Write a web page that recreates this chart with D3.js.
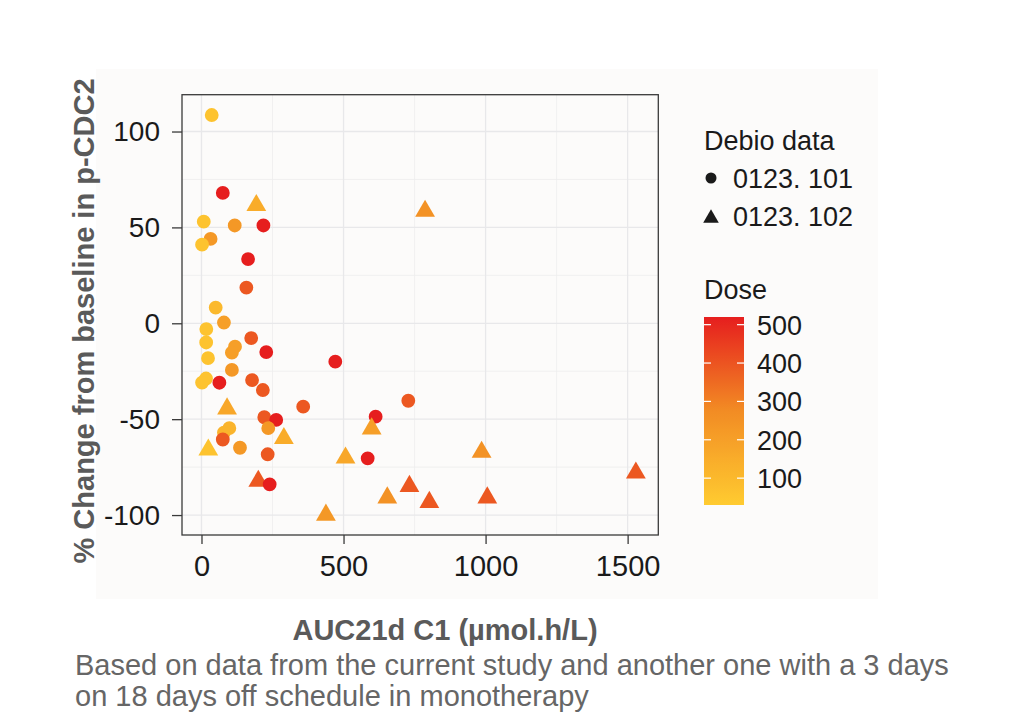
<!DOCTYPE html>
<html>
<head>
<meta charset="utf-8">
<script src="https://cdn.jsdelivr.net/npm/d3@7"></script>
<style>
  html, body { margin: 0; padding: 0; background: #ffffff; }
  svg { display: block; }
  text { font-family: "Liberation Sans", Arial, sans-serif; }
</style>
</head>
<body>
<svg id="chart" width="1011" height="714"></svg>
<script>
// ---- data ----
const auc = [36, 75, 193, 8, 117, 218, 32, 2, 164, 158,
             50, 79, 17, 175, 16.5, 228, 118, 107, 23, 471,
             107, 16, 2, 63, 178, 216, 90, 358, 728, 613,
             599, 221, 263, 235, 290, 98, 79, 75, 135.5, 24,
             233, 507, 585, 200, 240, 654, 732, 438, 986, 802,
             1006, 1529, 787];
const change = [108.6, 68, 63, 53, 51, 51, 44, 41, 33.5, 18.6,
                8.2, 0.4, -3, -7.7, -10, -15, -12.2, -15.3, -18.2, -20,
                -24.3, -28.8, -30.9, -31, -29.6, -34.8, -43.1, -43.5, -40.4, -48.7,
                -53.5, -49, -50.4, -54.7, -58.5, -54.7, -57, -60.6, -64.9, -64.5,
                -68.3, -68.7, -70.4, -80.8, -84, -89.5, -83.5, -98.5, -65.7, -91.8,
                -89.5, -76.5, 60];
const dose = [60, 520, 150, 60, 230, 520, 230, 60, 520, 390,
              100, 200, 60, 390, 60, 520, 200, 200, 60, 520,
              230, 60, 60, 520, 390, 390, 170, 390, 390, 520,
              200, 390, 520, 230, 150, 120, 120, 390, 230, 60,
              390, 170, 520, 390, 520, 250, 390, 230, 250, 390,
              390, 390, 250];
const study = ["101","101","102","101","101","101","101","101","101","101",
               "101","101","101","101","101","101","101","101","101","101",
               "101","101","101","101","101","101","102","101","101","101",
               "102","101","101","101","102","101","101","101","101","102",
               "101","102","101","102","101","102","102","102","102","102",
               "102","102","102"];
const studyLevels = ["101", "102"];
const studyLabels = ["0123. 101", "0123. 102"];
const xTicks = [0, 500, 1000, 1500];
const yTicks = [100, 50, 0, -50, -100];
const xMinor = [250, 750, 1250];
const yMinor = [75, 25, -25, -75];
const doseTicks = [100, 200, 300, 400, 500];
const doseRange = [30, 520];
const xDomain = [-68.6, 1608];
const yDomain = [-110.4, 119.2];

// ---- layout ----
const svg = d3.select("#chart");
const panel = {left: 182, right: 658.3, top: 94.7, bottom: 535};

svg.append("rect").attr("x", 96).attr("y", 69).attr("width", 782).attr("height", 530)
  .attr("fill", "#fcfbfa");

const x = d3.scaleLinear().domain(xDomain).range([panel.left, panel.right]);
const y = d3.scaleLinear().domain(yDomain).range([panel.bottom, panel.top]);
const color = d3.scaleLinear()
  .domain([doseRange[0], (doseRange[0] + doseRange[1]) / 2, doseRange[1]])
  .range(["#ffcb30", "#f28c24", "#e61e1e"]);

const g = svg.append("g");
// grid
g.selectAll(".xminor").data(xMinor).join("line")
  .attr("x1", d => x(d)).attr("x2", d => x(d)).attr("y1", panel.top).attr("y2", panel.bottom)
  .attr("stroke", "#eeeeee").attr("stroke-width", 0.8);
g.selectAll(".yminor").data(yMinor).join("line")
  .attr("y1", d => y(d)).attr("y2", d => y(d)).attr("x1", panel.left).attr("x2", panel.right)
  .attr("stroke", "#eeeeee").attr("stroke-width", 0.8);
g.selectAll(".xmajor").data(xTicks).join("line")
  .attr("x1", d => x(d)).attr("x2", d => x(d)).attr("y1", panel.top).attr("y2", panel.bottom)
  .attr("stroke", "#e8e8ea").attr("stroke-width", 1.3);
g.selectAll(".ymajor").data(yTicks).join("line")
  .attr("y1", d => y(d)).attr("y2", d => y(d)).attr("x1", panel.left).attr("x2", panel.right)
  .attr("stroke", "#e8e8ea").attr("stroke-width", 1.3);

// points
const circleSize = 150;
const triSize = 170;
const triK = Math.sqrt(triSize / (3 * Math.sqrt(3)));
const idx = d3.range(auc.length);
g.selectAll(".pt").data(idx).join("path")
  .attr("d", i => d3.symbol().type(study[i] === "101" ? d3.symbolCircle : d3.symbolTriangle)
      .size(study[i] === "101" ? circleSize : triSize)())
  .attr("transform", i => `translate(${x(auc[i])},${y(change[i]) + (study[i] === "101" ? 0 : triK / 2)})`)
  .attr("fill", i => color(dose[i]));

// panel border
svg.append("rect").attr("x", panel.left).attr("y", panel.top)
  .attr("width", panel.right - panel.left).attr("height", panel.bottom - panel.top)
  .attr("fill", "none").attr("stroke", "#3a3a3a").attr("stroke-width", 1.3);

// axes
const fmt = d => String(d);
const xAxis = svg.append("g").attr("transform", `translate(0,${panel.bottom})`)
  .call(d3.axisBottom(x).tickValues(xTicks).tickSize(9).tickPadding(11).tickFormat(fmt));
xAxis.select(".domain").remove();
xAxis.selectAll("line").attr("stroke", "#3a3a3a").attr("stroke-width", 1.3);
xAxis.selectAll("text").attr("font-size", 29).attr("fill", "#1a1a1a")
  .attr("font-family", "Liberation Sans, Arial, sans-serif");

const yAxis = svg.append("g").attr("transform", `translate(${panel.left},0)`)
  .call(d3.axisLeft(y).tickValues(yTicks).tickSize(10).tickPadding(12).tickFormat(fmt));
yAxis.select(".domain").remove();
yAxis.selectAll("line").attr("stroke", "#3a3a3a").attr("stroke-width", 1.3);
yAxis.selectAll("text").attr("font-size", 28).attr("fill", "#1a1a1a")
  .attr("font-family", "Liberation Sans, Arial, sans-serif");

// axis titles
svg.append("text").attr("transform", "translate(94,321) rotate(-90)")
  .attr("text-anchor", "middle").attr("font-size", 29).attr("font-weight", "bold")
  .attr("fill", "#5a5a5a").text("% Change from baseline in p-CDC2");
svg.append("text").attr("x", 445).attr("y", 640)
  .attr("text-anchor", "middle").attr("font-size", 29).attr("font-weight", "bold")
  .attr("fill", "#5a5a5a").text("AUC21d C1 (\u00b5mol.h/L)");

// caption
svg.append("text").attr("x", 75).attr("y", 675).attr("font-size", 29).attr("fill", "#666666")
  .text("Based on data from the current study and another one with a 3 days");
svg.append("text").attr("x", 75).attr("y", 706).attr("font-size", 29).attr("fill", "#666666")
  .text("on 18 days off schedule in monotherapy");

// legend: shapes
const lg = svg.append("g");
lg.append("text").attr("x", 704).attr("y", 150).attr("font-size", 27).attr("fill", "#1a1a1a")
  .text("Debio data");
const legY = d3.scalePoint().domain(studyLevels).range([178, 216]);
lg.selectAll(".lsym").data(studyLevels).join("path")
  .attr("d", s => d3.symbol().type(s === "101" ? d3.symbolCircle : d3.symbolTriangle)
     .size(s === "101" ? 95 : 105)())
  .attr("transform", s => `translate(711,${legY(s) + (s === "101" ? 0 : Math.sqrt(105 / (3 * Math.sqrt(3))) / 2)})`)
  .attr("fill", "#1a1a1a");
lg.selectAll(".ltxt").data(studyLevels).join("text")
  .attr("x", 733).attr("y", s => legY(s) + 10).attr("font-size", 27).attr("fill", "#1a1a1a")
  .text((s, i) => studyLabels[i]);

// legend: colorbar
lg.append("text").attr("x", 704).attr("y", 299).attr("font-size", 27).attr("fill", "#1a1a1a")
  .text("Dose");
const cb = d3.scaleLinear().domain(doseRange).range([505, 317]);
const defs = svg.append("defs");
const grad = defs.append("linearGradient").attr("id", "doseGrad")
  .attr("x1", 0).attr("x2", 0).attr("y1", 1).attr("y2", 0);
d3.range(0, 1.0001, 0.05).forEach(t => {
  const v = doseRange[0] + t * (doseRange[1] - doseRange[0]);
  grad.append("stop").attr("offset", t).attr("stop-color", color(v));
});
lg.append("rect").attr("x", 704).attr("y", cb(doseRange[1])).attr("width", 40)
  .attr("height", cb(doseRange[0]) - cb(doseRange[1])).attr("fill", "url(#doseGrad)");
lg.selectAll(".cbl").data(doseTicks).join("line")
  .attr("x1", 704).attr("x2", 711).attr("y1", d => cb(d)).attr("y2", d => cb(d))
  .attr("stroke", "#ffffff").attr("stroke-width", 1.2);
lg.selectAll(".cbr").data(doseTicks).join("line")
  .attr("x1", 737).attr("x2", 744).attr("y1", d => cb(d)).attr("y2", d => cb(d))
  .attr("stroke", "#ffffff").attr("stroke-width", 1.2);
lg.selectAll(".cbt").data(doseTicks).join("text")
  .attr("x", 757).attr("y", d => cb(d) + 10).attr("font-size", 27).attr("fill", "#1a1a1a")
  .text(d => d);
</script>
</body>
</html>
